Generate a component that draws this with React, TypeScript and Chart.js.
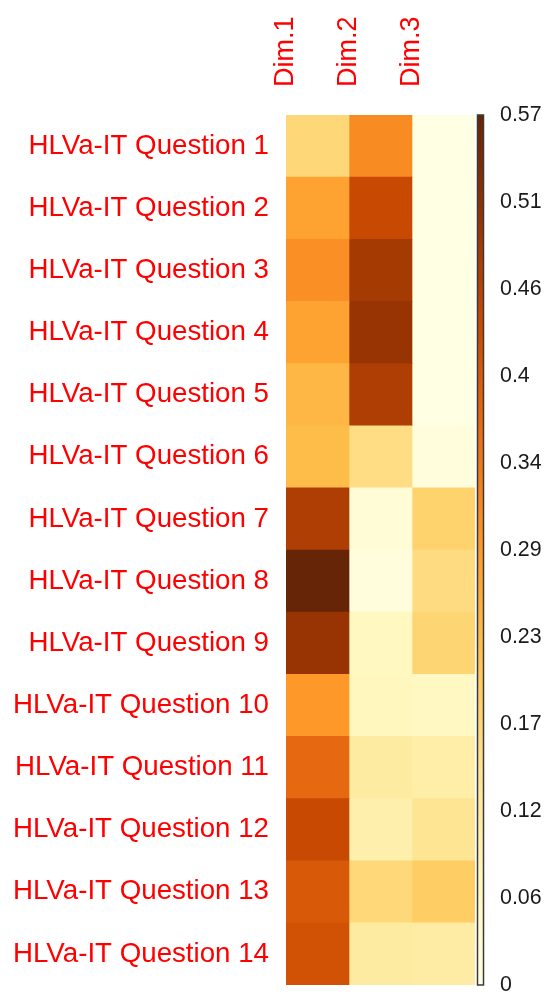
import React, { useEffect, useRef } from "react";
import { Chart, registerables } from "chart.js";

Chart.register(...registerables);

const questions = [
  "HLVa-IT Question 1",
  "HLVa-IT Question 2",
  "HLVa-IT Question 3",
  "HLVa-IT Question 4",
  "HLVa-IT Question 5",
  "HLVa-IT Question 6",
  "HLVa-IT Question 7",
  "HLVa-IT Question 8",
  "HLVa-IT Question 9",
  "HLVa-IT Question 10",
  "HLVa-IT Question 11",
  "HLVa-IT Question 12",
  "HLVa-IT Question 13",
  "HLVa-IT Question 14",
];

const dims = ["Dim.1", "Dim.2", "Dim.3"];

const dim1 = [0.17, 0.27, 0.3, 0.27, 0.235, 0.225, 0.47, 0.57, 0.5, 0.285, 0.37, 0.435, 0.4, 0.415];
const dim2 = [0.31, 0.435, 0.48, 0.5, 0.47, 0.156, 0.026, 0.018, 0.063, 0.068, 0.115, 0.098, 0.168, 0.114];
const dim3 = [0.004, 0.004, 0.004, 0.004, 0.004, 0.015, 0.18, 0.16, 0.175, 0.06, 0.104, 0.137, 0.19, 0.11];

const scaleMax = 0.57;
const colorbarValues = [0, 0.057, 0.114, 0.171, 0.228, 0.285, 0.342, 0.399, 0.456, 0.513, 0.57];
const colorbarLabels = ["0", "0.06", "0.12", "0.17", "0.23", "0.29", "0.34", "0.4", "0.46", "0.51", "0.57"];

const palette = [
  [255, 255, 229],
  [255, 247, 188],
  [254, 227, 145],
  [254, 196, 79],
  [254, 153, 41],
  [236, 112, 20],
  [204, 76, 2],
  [153, 52, 4],
  [102, 37, 6],
];

function colorFor(v: number): string {
  let t = Math.max(0, Math.min(1, v / scaleMax)) * (palette.length - 1);
  const i = Math.min(palette.length - 2, Math.floor(t));
  const f = t - i;
  const a = palette[i];
  const b = palette[i + 1];
  const c = a.map((x, k) => Math.round(x + (b[k] - x) * f));
  return `rgb(${c[0]},${c[1]},${c[2]})`;
}

const FONT = "'Liberation Sans', Arial, sans-serif";

const colorbarPlugin = {
  id: "colorbar",
  afterDraw(chart: any) {
    const yc = chart.scales.yc;
    const ctx = chart.ctx;
    const top = yc.getPixelForValue(scaleMax);
    const bottom = yc.getPixelForValue(0);
    const x = chart.chartArea.right + 2.5;
    const w = 6;
    const grad = ctx.createLinearGradient(0, bottom, 0, top);
    palette.forEach((c, k) => {
      grad.addColorStop(k / (palette.length - 1), `rgb(${c[0]},${c[1]},${c[2]})`);
    });
    ctx.save();
    ctx.fillStyle = grad;
    ctx.fillRect(x, top, w, bottom - top);
    ctx.strokeStyle = "#3a3a3a";
    ctx.lineWidth = 1.5;
    ctx.strokeRect(x, top, w, bottom - top);
    ctx.restore();
  },
};

export default function App() {
  const ref = useRef<HTMLCanvasElement | null>(null);

  useEffect(() => {
    if (!ref.current) return;
    const series = [dim1, dim2, dim3];
    const chart = new Chart(ref.current, {
      type: "bar",
      data: {
        labels: questions,
        datasets: dims.map((d, i) => ({
          label: d,
          data: questions.map(() => 1),
          backgroundColor: series[i].map(colorFor),
          borderWidth: 0,
          barPercentage: 1,
          categoryPercentage: 1,
        })),
      },
      options: {
        indexAxis: "y",
        animation: false,
        responsive: false,
        layout: { padding: { top: 0, left: 0, right: 0, bottom: 7 } },
        plugins: { legend: { display: false }, tooltip: { enabled: false } },
        scales: {
          x: {
            type: "linear",
            position: "top",
            stacked: true,
            min: 0,
            max: 3,
            offset: false,
            grid: { display: false, drawTicks: false },
            border: { display: false },
            afterBuildTicks: (s: any) => {
              s.ticks = [0.5, 1.5, 2.5].map((v) => ({ value: v }));
            },
            afterFit: (s: any) => {
              s.height = 115;
              s.paddingLeft = 0;
              s.paddingRight = 0;
            },
            ticks: {
              autoSkip: false,
              minRotation: 90,
              maxRotation: 90,
              padding: 28,
              color: "#ff0000",
              font: { family: FONT, size: 27 },
              callback: (v: any) => dims[Math.floor(Number(v))],
            },
          },
          y: {
            type: "category",
            stacked: true,
            grid: { display: false, drawTicks: false },
            border: { display: false },
            afterFit: (s: any) => {
              s.width = 286;
              s.paddingTop = 0;
              s.paddingBottom = 0;
            },
            ticks: {
              autoSkip: false,
              padding: 17,
              color: "#ff0000",
              font: { family: FONT, size: 27.7 },
            },
          },
          yc: {
            axis: "y",
            type: "linear",
            position: "right",
            min: 0,
            max: scaleMax,
            offset: false,
            grid: { display: false, drawTicks: false },
            border: { display: false },
            afterBuildTicks: (s: any) => {
              s.ticks = colorbarValues.map((v) => ({ value: v }));
            },
            afterFit: (s: any) => {
              s.width = 70;
              s.paddingTop = 0;
              s.paddingBottom = 0;
            },
            ticks: {
              autoSkip: false,
              padding: 25,
              color: "#1a1a1a",
              font: { family: FONT, size: 21.4 },
              callback: (_v: any, i: number) => colorbarLabels[i],
            },
          },
        },
      } as any,
      plugins: [colorbarPlugin],
    });
    return () => chart.destroy();
  }, []);

  return (
    <div style={{ position: "absolute", left: 0, top: 0, width: 545, height: 992, background: "#fff" }}>
      <canvas ref={ref} width={545} height={992} style={{ display: "block" }} />
    </div>
  );
}
